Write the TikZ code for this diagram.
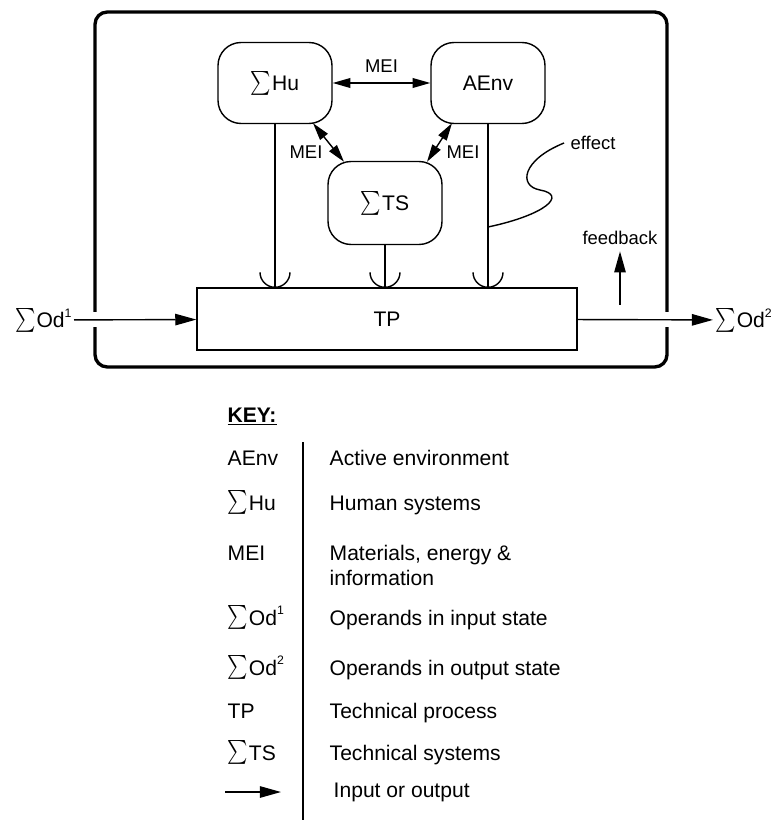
\documentclass[tikz,border=0pt]{standalone}
\usepackage{fontspec}
\usepackage{graphicx}
\setmainfont{Liberation Sans}
\usetikzlibrary{arrows.meta}
\newcommand{\sig}{\scalebox{1.1}[1.36]{$\sum$}\kern0.5pt}
\newcommand{\sups}[1]{\raisebox{0.9ex}{\fontsize{7}{8}\selectfont#1}}
\newcommand{\socket}[1]{%
  \draw (#1) ++(-15,-15) arc[start angle=180,end angle=360,radius=0.3cm];%
}

\begin{document}
\begin{tikzpicture}[x=0.02cm,y=-0.02cm,line width=0.8pt,font=\fontsize{12}{14}\selectfont,
  sys/.style={draw,rounded corners=0.46cm,minimum width=2.28cm,minimum height=1.62cm},
  lbl/.style={font=\fontsize{10.5}{12}\selectfont},
  tip/.style={-{Triangle[length=12pt,width=6.5pt]}},
  both/.style={{Triangle[length=10pt,width=5.5pt]}-{Triangle[length=10pt,width=5.5pt]}},
  keytxt/.style={anchor=base west,inner sep=0pt,align=left}]
  \useasboundingbox (0,0) rectangle (775,820);
  \draw[line width=1.9pt,rounded corners=7pt] (95,312) |- (667,12) -- (667,312);
  \draw[line width=1.9pt,rounded corners=7pt] (95,327) |- (667,367) -- (667,327);
  \node[sys] (hu) at (275,83) {\sig Hu};
  \node[sys] (aenv) at (488,83) {AEnv};
  \node[sys,minimum height=1.66cm] (ts) at (385,203) {\sig TS};
  \node[draw,minimum width=7.6cm,minimum height=1.24cm] (tp) at (387,319) {TP};
  \node[inner sep=1pt,anchor=east] (od1) at (74,320) {\sig Od\sups{1}};
  \node[inner sep=1pt,anchor=west] (od2) at (713,320) {\sig Od\sups{2}};
  \draw[both] (hu) -- (aenv) node[lbl,midway,above=2pt] (mei1) {MEI};
  \draw[both] ([shift={(38,-1)}]hu.south) -- ([shift={(-41,1)}]ts.north);
  \draw[both] ([shift={(-36,-1)}]aenv.south) -- ([shift={(42,1)}]ts.north);
  \node[lbl] (mei2) at (306,152) {MEI};
  \node[lbl] (mei3) at (463,152) {MEI};
  \foreach \n in {hu,ts,aenv}{
    \draw (\n) -- (\n |- tp.north) coordinate (c\n);
    \socket{c\n}
  }
  \draw[tip] (od1) -- (tp);
  \draw[tip] (tp) -- (od2);
  \coordinate (fx) at (aenv |- 0,227);
  \node[lbl] (effect) at (593,143) {effect};
  \draw (fx) .. controls (545,215) and (568,195) .. (540,190)
    .. controls (518,186) and (522,160) .. (effect.west);
  \node[lbl] (fb) at (620,238) {feedback};
  \coordinate (fbs) at (620,305);
  \draw[tip] (fbs) -- (fb.south);
  \node[keytxt] (key) at (227,422) {\underline{\textbf{KEY:}}};
  \coordinate (ktop) at (303,442);
  \coordinate (kbot) at (303,820);
  \draw (ktop) -- (kbot);
  \foreach \a/\b/\y/\z [count=\i] in {AEnv/Active environment/465/465, \sig Hu/Human systems/510/510,
      MEI/{Materials, energy \&\\information}/560/585, \sig Od\sups{1}/Operands in input state/625/625,
      \sig Od\sups{2}/Operands in output state/675/675, TP/Technical process/718/718,
      \sig TS/Technical systems/760/760}{
    \node[keytxt] (l\i) at (227,\y) {\a};
    \node[keytxt] (r\i) at (329,\z) {\b};
  }
  \coordinate (ka) at (225,792);
  \coordinate (kb) at (281,792);
  \draw[tip] (ka) -- (kb);
  \node[keytxt] (r8) at (333,797) {Input or output};
\end{tikzpicture}
\end{document}
